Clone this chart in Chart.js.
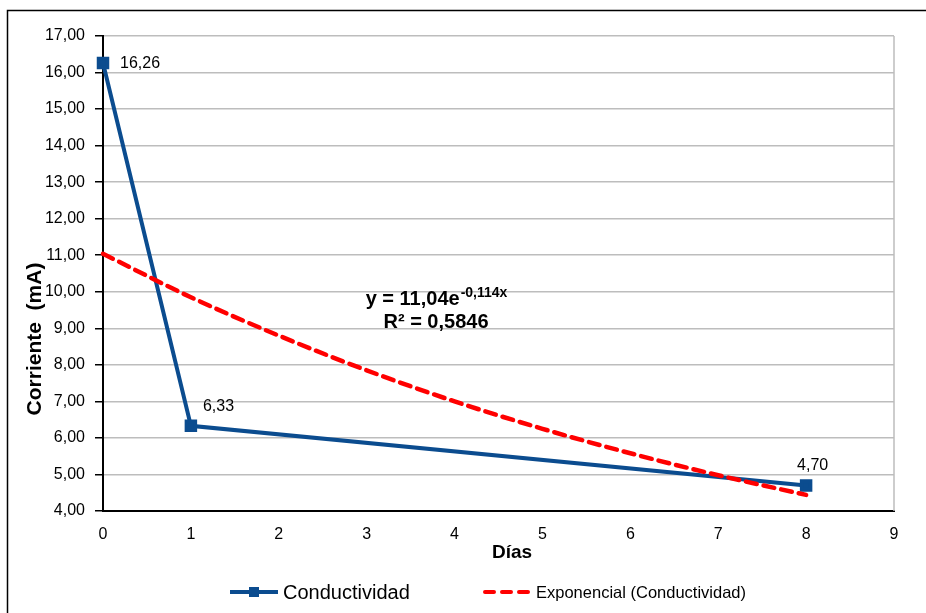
<!DOCTYPE html>
<html>
<head>
<meta charset="utf-8">
<script src="https://cdn.jsdelivr.net/npm/chart.js@4"></script>
<style>
  html, body { margin: 0; padding: 0; background: #fff; }
</style>
</head>
<body>
<canvas id="chart" width="926" height="613"></canvas>
<script>
// data
const dias = [0, 1, 8];
const corriente = [16.26, 6.33, 4.70];
const trendX = [0, 1, 2, 3, 4, 5, 6, 7, 8];
const trendY = [11.04, 9.85, 8.80, 7.85, 7.00, 6.25, 5.58, 4.98, 4.44];
const labelConductividad = 'Conductividad';
const labelTrend = 'Exponencial (Conductividad)';
const xTitle = 'Días';
const yTitle = 'Corriente  (mA)';

const blue = '#0b4c8f';
const red = '#ff0000';
const FONT = '"Liberation Sans", Arial, sans-serif';

const fmt = v => v.toFixed(2).replace('.', ',');

// frame, titles, equation, point labels and legend
const extras = {
    id: 'extras',
    beforeDraw(chart) {
        const ctx = chart.ctx;
        ctx.save();
        ctx.fillStyle = '#fff';
        ctx.fillRect(0, 0, chart.width, chart.height);
        ctx.strokeStyle = '#000';
        ctx.lineWidth = 1.5;
        ctx.strokeRect(7.5, 10.5, 940, 640);
        ctx.restore();
    },
    afterDatasetsDraw(chart) {
        const ctx = chart.ctx;
        const area = chart.chartArea;
        ctx.save();
        // plot area right border
        ctx.strokeStyle = '#bdbdbd';
        ctx.lineWidth = 1.5;
        ctx.beginPath();
        ctx.moveTo(area.right, area.top);
        ctx.lineTo(area.right, area.bottom);
        ctx.stroke();

        // axis titles
        ctx.fillStyle = '#000';
        ctx.textAlign = 'center';
        ctx.textBaseline = 'middle';
        ctx.font = 'bold 19px ' + FONT;
        ctx.fillText(xTitle, 512, 553);
        ctx.save();
        ctx.translate(35, 339);
        ctx.rotate(-Math.PI / 2);
        ctx.font = 'bold 21px ' + FONT;
        ctx.fillText(yTitle, 0, 0);
        ctx.restore();

        // point labels
        const meta = chart.getDatasetMeta(0);
        ctx.font = '16px ' + FONT;
        ctx.textAlign = 'left';
        const offs = [[17, 1], [12, -19], [-9, -20]];
        meta.data.forEach((pt, i) => {
            ctx.fillText(fmt(corriente[i]), pt.x + offs[i][0], pt.y + offs[i][1]);
        });

        // trendline equation
        ctx.textBaseline = 'alphabetic';
        const main = 'y = 11,04e';
        const sup = '-0,114x';
        ctx.font = 'bold 20px ' + FONT;
        const w1 = ctx.measureText(main).width;
        ctx.font = 'bold 14px ' + FONT;
        const w2 = ctx.measureText(sup).width;
        const cx = 436;
        const x0 = cx - (w1 + w2) / 2;
        ctx.font = 'bold 20px ' + FONT;
        ctx.fillText(main, x0, 305);
        ctx.font = 'bold 14px ' + FONT;
        ctx.fillText(sup, x0 + w1 + 1, 297);
        ctx.font = 'bold 20px ' + FONT;
        ctx.textAlign = 'center';
        ctx.fillText('R² = 0,5846', 436, 328);

        // legend
        const ly = 592;
        ctx.lineWidth = 4;
        ctx.strokeStyle = blue;
        ctx.beginPath();
        ctx.moveTo(230, ly);
        ctx.lineTo(278, ly);
        ctx.stroke();
        ctx.fillStyle = blue;
        ctx.fillRect(249, ly - 5, 10, 10);
        ctx.fillStyle = '#000';
        ctx.textAlign = 'left';
        ctx.textBaseline = 'middle';
        ctx.font = '20px ' + FONT;
        ctx.fillText(labelConductividad, 283, ly + 1);

        ctx.strokeStyle = red;
        ctx.lineCap = 'round';
        ctx.setLineDash([9, 8]);
        ctx.beginPath();
        ctx.moveTo(485, ly);
        ctx.lineTo(530, ly);
        ctx.stroke();
        ctx.setLineDash([]);
        ctx.font = '16.5px ' + FONT;
        ctx.fillText(labelTrend, 536, ly + 1);
        ctx.restore();
    }
};

new Chart(document.getElementById('chart'), {
    type: 'scatter',
    data: {
        datasets: [{
            label: labelConductividad,
            data: dias.map((d, i) => ({ x: d, y: corriente[i] })),
            showLine: true,
            clip: false,
            borderColor: blue,
            backgroundColor: blue,
            borderWidth: 4,
            pointStyle: 'rect',
            pointRadius: 6,
            pointHoverRadius: 6,
            order: 1
        }, {
            label: labelTrend,
            data: trendX.map((d, i) => ({ x: d, y: trendY[i] })),
            showLine: true,
            clip: false,
            borderColor: red,
            borderWidth: 4.5,
            borderDash: [11, 7],
            borderCapStyle: 'round',
            pointRadius: 0,
            cubicInterpolationMode: 'monotone',
            order: 0
        }]
    },
    options: {
        responsive: false,
        animation: false,
        devicePixelRatio: 1,
        layout: { padding: { top: 36, right: 32, left: 0, bottom: 0 } },
        plugins: { legend: { display: false }, tooltip: { enabled: false } },
        scales: {
            x: {
                type: 'linear',
                min: 0, max: 9,
                afterFit: s => { s.height = 102; },
                ticks: { stepSize: 1, color: '#000', font: { size: 16, family: FONT }, padding: 8 },
                grid: { display: false, drawTicks: true, tickLength: 6, tickColor: '#000' },
                border: { color: '#000', width: 2 }
            },
            y: {
                min: 4, max: 17,
                afterFit: s => { s.width = 103; },
                ticks: { stepSize: 1, color: '#000', font: { size: 16, family: FONT }, padding: 10, callback: v => fmt(v) },
                grid: { color: '#bdbdbd', lineWidth: 1.5, tickColor: '#000', tickLength: 8 },
                border: { color: '#000', width: 2 }
            }
        }
    },
    plugins: [extras]
});
</script>
</body>
</html>
